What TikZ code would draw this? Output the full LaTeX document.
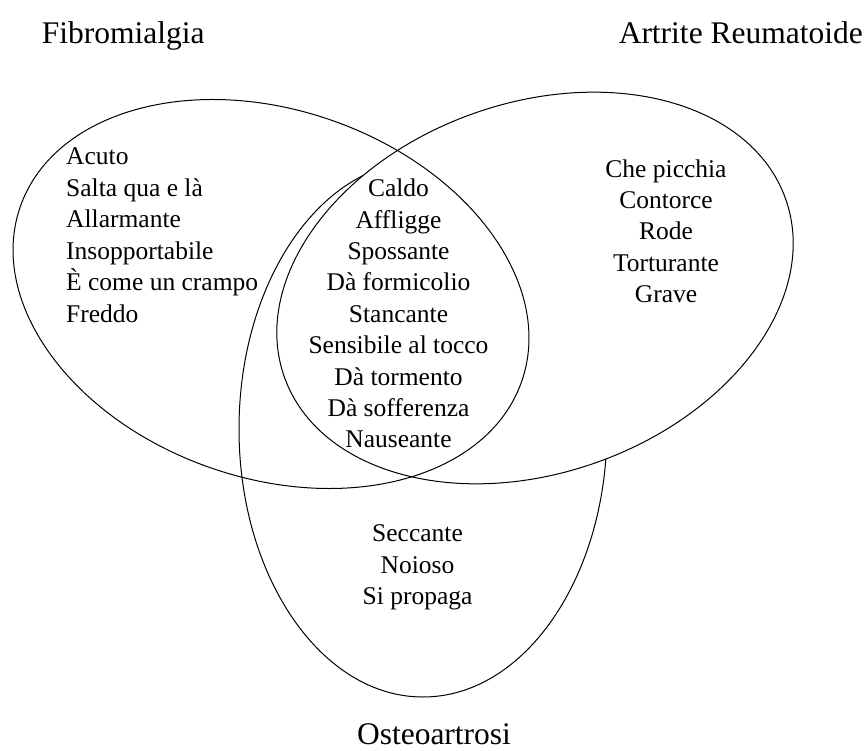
\documentclass[tikz,border=0pt]{standalone}
\usepackage{fontspec}
\setmainfont{Liberation Serif}
\tikzset{
  setline/.style={draw=black, line width=1pt},
  item/.style={font=\fontsize{25.5}{30}\selectfont, inner sep=0pt, anchor=base},
  itemleft/.style={item, anchor=base west},
  settitle/.style={font=\fontsize{31.5}{36}\selectfont, inner sep=0pt, anchor=base}
}
\begin{document}
\begin{tikzpicture}[x=1pt,y=-1pt]
\useasboundingbox (0,0) rectangle (867,751);
% Osteoartrosi
\draw[setline] (423,429) ellipse [x radius=184, y radius=268];
% Artrite Reumatoide (opaque, hides the Osteoartrosi arc)
\draw[setline, fill=white, rotate around={19.6:(535,288)}] (535,288) ellipse [x radius=266, y radius=185];
% Fibromialgia
\draw[setline, rotate around={-19.2:(271,294)}] (271,294) ellipse [x radius=265.5, y radius=184];

% titles
\node[settitle, anchor=base west] (tf) at (41.7,43.5) {Fibromialgia};
\node[settitle, anchor=base east] (ta) at (863,43.5) {Artrite Reumatoide};
\node[settitle] (to) at (434,744) {Osteoartrosi};

% Fibromialgia only
\foreach \t [count=\i from 0] in {Acuto, Salta qua e là, Allarmante, Insopportabile, È come un crampo, Freddo}
  \node[itemleft] (l\i) at (66,165+31.4*\i) {\t};
% Fibromialgia & Artrite
\foreach \t [count=\i from 0] in {Caldo, Affligge, Spossante, Dà formicolio, Stancante, Sensibile al tocco, Dà tormento, Dà sofferenza, Nauseante}
  \node[item] (c\i) at (398.5,196.7+31.4*\i) {\t};
% Artrite only
\foreach \t [count=\i from 0] in {Che picchia, Contorce, Rode, Torturante, Grave}
  \node[item] (r\i) at (666,177.3+31.35*\i) {\t};
% Osteoartrosi only
\foreach \t [count=\i from 0] in {Seccante, Noioso, Si propaga}
  \node[item] (b\i) at (417.5,541.7+31.3*\i) {\t};
\end{tikzpicture}
\end{document}
